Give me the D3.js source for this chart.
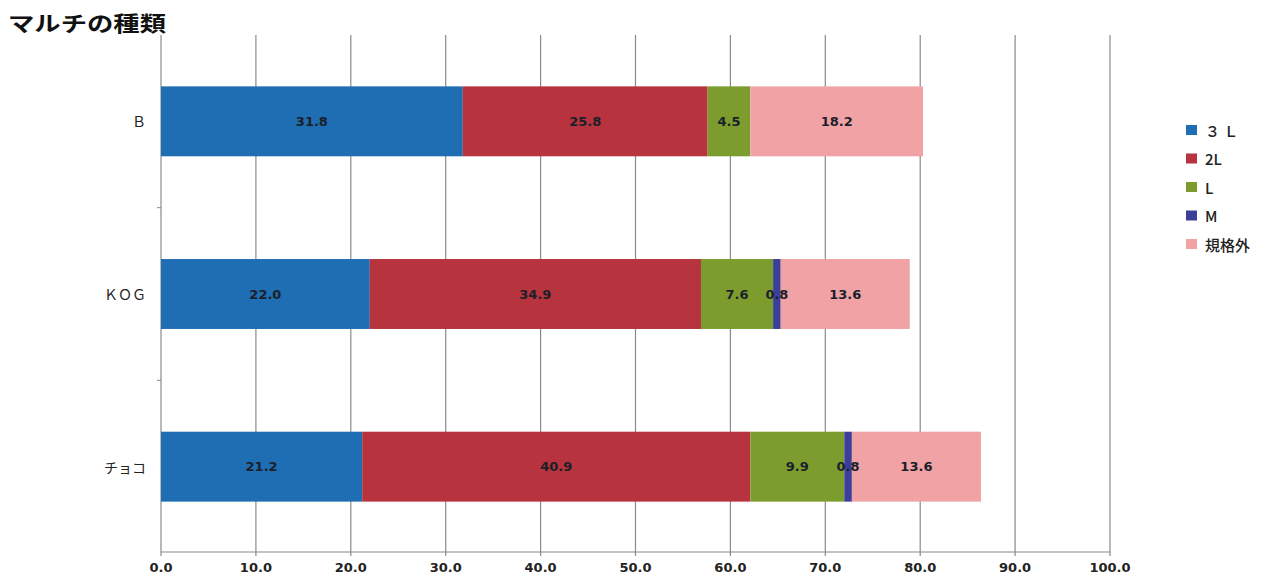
<!DOCTYPE html>
<html><head><meta charset="utf-8">
<script src="https://cdn.jsdelivr.net/npm/d3@7"></script>
<style>body{margin:0;background:#fff;}svg{display:block;}</style>
</head><body>
<svg id="c" width="1272" height="576"></svg>
<script>
const categories = ["Ｂ", "ＫＯＧ", "チョコ"];
const seriesNames = ["３Ｌ", "2L", "L", "M", "規格外"];
const legendLabels = ["３ Ｌ", "2L", "L", "M", "規格外"];
const v3L = [31.8, 22.0, 21.2];
const v2L = [25.8, 34.9, 40.9];
const vL = [4.5, 7.6, 9.9];
const vM = [0, 0.8, 0.8];
const vOut = [18.2, 13.6, 13.6];
const tickValues = [0, 10, 20, 30, 40, 50, 60, 70, 80, 90, 100];
const colors = ["#1f6db2", "#b7333d", "#7c9d2e", "#3b3f98", "#f0a2a5"];
const title = "マルチの種類";

const svg = d3.select("#c");
const x = d3.scaleLinear().domain([0, 100]).range([161, 1110]);
const y = d3.scaleBand().domain(categories).range([35, 553]).paddingInner(0.595).paddingOuter(0.2975);

const seriesVals = [v3L, v2L, vL, vM, vOut];
const rows = categories.map((c, i) => {
  const r = {cat: c};
  seriesNames.forEach((s, k) => r[s] = seriesVals[k][i]);
  return r;
});
const stacked = d3.stack().keys(seriesNames)(rows);

// gridlines
svg.append("g").selectAll("line").data(tickValues).join("line")
  .attr("x1", d => x(d)).attr("x2", d => x(d))
  .attr("y1", 35).attr("y2", 556)
  .attr("stroke", "#8a8a8a").attr("stroke-width", 1.2);

// category boundary ticks
const bounds = [1, 2].map(i => 35 + i * (553 - 35) / 3);
svg.append("g").selectAll("line").data(bounds).join("line")
  .attr("x1", 157).attr("x2", 161).attr("y1", d => d).attr("y2", d => d)
  .attr("stroke", "#8a8a8a");

// axis line
svg.append("line").attr("x1", x(0)).attr("x2", x(100)).attr("y1", 552).attr("y2", 552)
  .attr("stroke", "#8a8a8a").attr("stroke-width", 1.2);

// bars
const g = svg.append("g");
stacked.forEach((s, k) => {
  g.append("g").selectAll("rect").data(s).join("rect")
    .attr("x", d => x(d[0]))
    .attr("width", d => Math.max(0, x(d[1]) - x(d[0])))
    .attr("y", d => y(d.data.cat))
    .attr("height", y.bandwidth())
    .attr("fill", colors[k]);
});
// labels
stacked.forEach((s, k) => {
  g.append("g").selectAll("text").data(s.filter(d => d[1] - d[0] > 0)).join("text")
    .attr("x", d => (x(d[0]) + x(d[1])) / 2)
    .attr("y", d => y(d.data.cat) + y.bandwidth() / 2)
    .attr("text-anchor", "middle").attr("dominant-baseline", "central")
    .attr("font-family", "Verdana, 'DejaVu Sans', sans-serif").attr("font-size", 13).attr("font-weight", "bold")
    .attr("fill", "#1b1f2a")
    .text(d => (d[1] - d[0]).toFixed(1));
});

// category labels
svg.append("g").selectAll("text").data(categories).join("text")
  .attr("x", 146).attr("y", d => y(d) + y.bandwidth() / 2)
  .attr("text-anchor", "end").attr("dominant-baseline", "central")
  .attr("font-family", "'Noto Sans CJK JP', sans-serif").attr("font-size", 14)
  .attr("fill", "#222")
  .text(d => d);

// x tick labels
svg.append("g").selectAll("text").data(tickValues).join("text")
  .attr("x", d => x(d)).attr("y", 572)
  .attr("text-anchor", "middle")
  .attr("font-family", "Verdana, 'DejaVu Sans', sans-serif").attr("font-size", 13).attr("font-weight", "bold")
  .attr("fill", "#222")
  .text(d => d.toFixed(1));

// title
svg.append("text").attr("x", 8).attr("y", 31)
  .attr("font-family", "'Noto Sans CJK JP', sans-serif").attr("font-size", 21).attr("font-weight", "bold")
  .attr("textLength", 158).attr("lengthAdjust", "spacingAndGlyphs")
  .attr("fill", "#111").text(title);

// legend
const lg = svg.append("g");
legendLabels.forEach((t, k) => {
  const yy = 130 + k * 28.5;
  lg.append("rect").attr("x", 1186).attr("y", yy - 5).attr("width", 11).attr("height", 10).attr("fill", colors[k]);
  lg.append("text").attr("x", 1205).attr("y", yy).attr("dominant-baseline", "central")
    .attr("font-family", "'Noto Sans CJK JP', sans-serif").attr("font-size", 15).attr("font-weight", 500)
    .attr("fill", "#222").text(t);
});
</script>
</body></html>
